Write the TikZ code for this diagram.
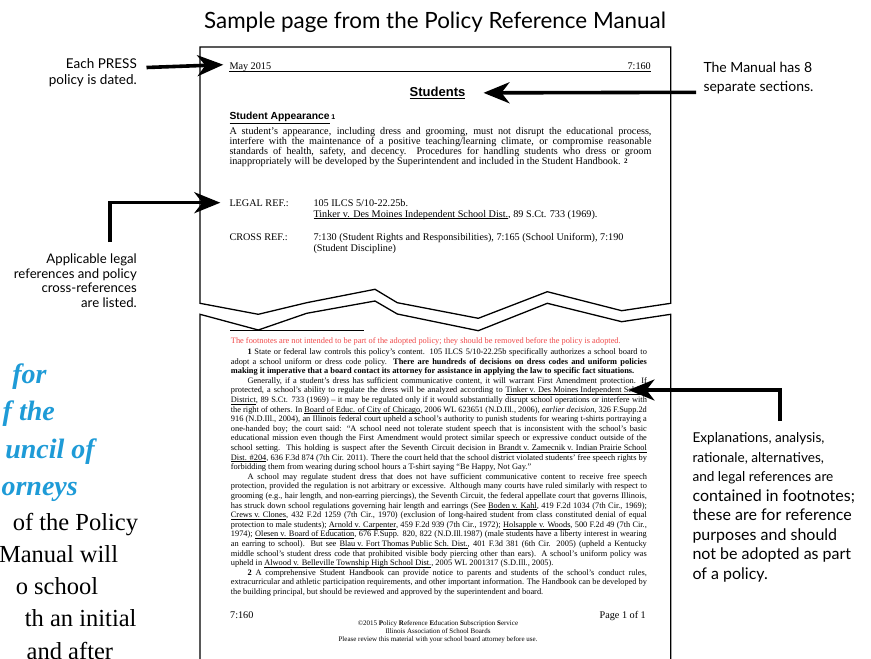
\documentclass[tikz,border=0pt]{standalone}
\usepackage{fontspec}
\setmainfont{Liberation Serif}
\newfontfamily\arialf{Liberation Sans}
\newfontfamily\gillf{Lato}
\usetikzlibrary{arrows.meta}
\definecolor{fnred}{RGB}{240,72,72}
\definecolor{titleblue}{RGB}{30,155,215}
\newcommand\mj[1]{\makebox[422pt][s]{#1}}
\newcommand\fj[1]{\makebox[416pt][s]{#1}}
\newcommand\topstrut{\rule{0pt}{0.8em}}
\newcommand\fnind{\hspace*{16.6pt}}
\newcommand\ul[1]{\underline{\smash{#1}}}
\AtBeginDocument{\lineskiplimit=-20pt\relax}
\tikzset{
  bigarrow/.style={line width=3.6pt, -{Stealth[length=26pt,width=21pt,inset=8pt]}},
  txt/.style={inner sep=0pt},
  times/.style={txt, font=\fontsize{10.2}{10}\selectfont},
  fnote/.style={txt, font=\fontsize{8.35}{9.6}\selectfont},
  note/.style={txt, font=\gillf\fontsize{13.5}{16.5}\selectfont},
  pageline/.style={line width=1.3pt, line join=miter},
  bluebig/.style={txt, text=titleblue, font=\bfseries\itshape\fontsize{28}{30}\selectfont},
  blackbig/.style={txt, font=\fontsize{24.5}{30}\selectfont}
}
\begin{document}
\begin{tikzpicture}[x=1pt,y=-1pt]
\useasboundingbox (0,0) rectangle (871,659);
\fill[white] (0,0) rectangle (871,659);

% page outline
\draw[pageline, fill=white] (200,47) -- (670.7,47) -- (670.7,303.3) -- (621.7,310.7) -- (547.3,291.7) -- (478.3,318.3) -- (397.3,302.7) -- (375,289.3) -- (306.7,302.7) -- (258.3,314.3) -- (200,303.3) -- cycle;
\draw[pageline] (200,670) -- (200,314.3) -- (258.3,330) -- (306.7,313.3) -- (375,301) -- (397.3,314) -- (478.3,330.7) -- (547.3,303.3) -- (621.7,321.7) -- (670.7,314.3) -- (670.7,670);

% title
\node[txt, anchor=base, font=\gillf\fontsize{22.4}{26}\selectfont] (title) at (435,28) {Sample page from the Policy Reference Manual};

% header
\node[times, anchor=base west] (date) at (229.3,69.5) {May 2015};
\node[times, anchor=base east] (secno) at (651,69.5) {7:160};
\draw[line width=0.8pt] (229.3,71.7) coordinate (rulel) -- (651,71.7) coordinate (ruler);

\node[txt, anchor=base, font=\arialf\bfseries\fontsize{13}{15}\selectfont] (students) at (437.5,96.5) {\underline{Students}};
\node[txt, anchor=base west, font=\arialf\bfseries\fontsize{10.3}{12}\selectfont] (appear) at (229.3,119.7) {\underline{Student Appearance}\,{\fontsize{7}{8}\selectfont\raisebox{0.6pt}{1}}};

\node[times, anchor=north west, align=left] (body) at (229.3,125.84) {\topstrut\mj{A student’s appearance, including dress and grooming, must not disrupt the educational process,}\\
\mj{interfere with the maintenance of a positive teaching/learning climate, or compromise reasonable}\\
\mj{standards of health, safety, and decency.\ \ Procedures for handling students who dress or groom}\\
inappropriately will be developed by the Superintendent and included in the Student Handbook. {\bfseries\fontsize{7}{8}\selectfont\raisebox{0.6pt}{2}}};

\node[times, anchor=base west] (legal) at (229.3,206) {LEGAL REF.:};
\node[times, anchor=north west, align=left, font=\fontsize{10.2}{10.8}\selectfont] (legaltxt) at (313.3,197.84) {\topstrut 105 ILCS 5/10-22.25b.\\\ul{Tinker v. Des Moines Independent School Dist.}, 89 S.Ct. 733 (1969).};
\node[times, anchor=base west] (cross) at (229.3,240) {CROSS REF.:};
\node[times, anchor=north west, align=left, font=\fontsize{10.2}{11.5}\selectfont] (crosstxt) at (313.3,231.84) {\topstrut 7:130 (Student Rights and Responsibilities), 7:165 (School Uniform), 7:190\\(Student Discipline)};

% footnotes
\draw[line width=0.8pt] (230,330.3) coordinate (fnrulel) -- (364,330.3) coordinate (fnruler);
\node[fnote, anchor=base west, text=fnred] (fnred) at (230.7,343.5) {The footnotes are not intended to be part of the adopted policy; they should be removed before the policy is adopted.};
\node[fnote, anchor=north west, align=left] (fntext) at (230.7,347.62) {\topstrut\fj{\fnind\textbf{1} State or federal law controls this policy’s content. 105 ILCS 5/10-22.25b specifically authorizes a school board to}\\
\fj{adopt a school uniform or dress code policy. \textbf{There are hundreds of decisions on dress codes and uniform policies}}\\
\textbf{making it imperative that a board contact its attorney for assistance in applying the law to specific fact situations.}\\
\fj{\fnind Generally, if a student’s dress has sufficient communicative content, it will warrant First Amendment protection. If}\\
\fj{protected, a school’s ability to regulate the dress will be analyzed according to \ul{Tinker v. Des Moines Independent School}}\\
\fj{\ul{District}, 89 S.Ct. 733 (1969) – it may be regulated only if it would substantially disrupt school operations or interfere with}\\
\fj{the right of others. In \ul{Board of Educ. of City of Chicago}, 2006 WL 623651 (N.D.Ill., 2006), \textit{earlier decision}, 326 F.Supp.2d}\\
\fj{916 (N.D.Ill., 2004), an Illinois federal court upheld a school’s authority to punish students for wearing t-shirts portraying a}\\
\fj{one-handed boy; the court said: “A school need not tolerate student speech that is inconsistent with the school’s basic}\\
\fj{educational mission even though the First Amendment would protect similar speech or expressive conduct outside of the}\\
\fj{school setting. This holding is suspect after the Seventh Circuit decision in \ul{Brandt v. Zamecnik v. Indian Prairie School}}\\
\fj{\ul{Dist. \#204}, 636 F.3d 874 (7th Cir. 2011). There the court held that the school district violated students’ free speech rights by}\\
forbidding them from wearing during school hours a T-shirt saying “Be Happy, Not Gay.”\\
\fj{\fnind A school may regulate student dress that does not have sufficient communicative content to receive free speech}\\
\fj{protection, provided the regulation is not arbitrary or excessive. Although many courts have ruled similarly with respect to}\\
\fj{grooming (e.g., hair length, and non-earring piercings), the Seventh Circuit, the federal appellate court that governs Illinois,}\\
\fj{has struck down school regulations governing hair length and earrings (See \ul{Boden v. Kahl}, 419 F.2d 1034 (7th Cir., 1969);}\\
\fj{\ul{Crews v. Clones}, 432 F.2d 1259 (7th Cir., 1970) (exclusion of long-haired student from class constituted denial of equal}\\
\fj{protection to male students); \ul{Arnold v. Carpenter}, 459 F.2d 939 (7th Cir., 1972); \ul{Holsapple v. Woods}, 500 F.2d 49 (7th Cir.,}\\
\fj{1974); \ul{Olesen v. Board of Education}, 676 F.Supp. 820, 822 (N.D.Ill.1987) (male students have a liberty interest in wearing}\\
\fj{an earring to school). But see \ul{Blau v. Fort Thomas Public Sch. Dist.}, 401 F.3d 381 (6th Cir. 2005) (upheld a Kentucky}\\
\fj{middle school’s student dress code that prohibited visible body piercing other than ears). A school’s uniform policy was}\\
upheld in \ul{Alwood v. Belleville Township High School Dist.}, 2005 WL 2001317 (S.D.Ill., 2005).\\
\fj{\fnind\textbf{2} A comprehensive Student Handbook can provide notice to parents and students of the school’s conduct rules,}\\
\fj{extracurricular and athletic participation requirements, and other important information. The Handbook can be developed by}\\
the building principal, but should be reviewed and approved by the superintendent and board.};

% footer
\node[times, anchor=base west] (footl) at (230,618.5) {7:160};
\node[times, anchor=base east] (footr) at (646,618.5) {Page 1 of 1};
\node[txt, anchor=north, align=center, font=\fontsize{7}{8}\selectfont] (copyr) at (438,619.9) {\topstrut ©2015 \textbf{P}olicy \textbf{R}eference \textbf{E}ducation \textbf{S}ubscription \textbf{S}ervice\\Illinois Association of School Boards\\Please review this material with your school board attorney before use.};

% annotations
\node[note, anchor=north east, align=right] (eachnote) at (137,57.2) {\topstrut Each PRESS\\policy is dated.};
\node[note, anchor=north west, align=left, font=\gillf\fontsize{14}{18.3}\selectfont] (manualnote) at (703.3,61.3) {\topstrut The Manual has 8\\separate sections.};
\node[note, anchor=north east, align=right, font=\gillf\fontsize{13.2}{14.5}\selectfont] (legalnote) at (137,253) {\topstrut Applicable legal\\references and policy\\cross-references\\are listed.};
\node[note, anchor=north west, align=left, font=\gillf\fontsize{13.6}{19.5}\selectfont] (explA) at (692.3,431.6) {\topstrut Explanations, analysis,\\rationale, alternatives,\\and legal references are};
\node[note, anchor=north west, align=left, font=\gillf\fontsize{16}{19.5}\selectfont] (explB) at (692.3,488.2) {\topstrut contained in footnotes;\\these are for reference\\purposes and should\\not be adopted as part\\of a policy.};

% arrows
\coordinate (eachstart) at (146.5,67.5);
\draw[bigarrow] (eachstart) -- ([xshift=-6pt,yshift=2.5pt]date.west);
\coordinate (manualstart) at (696,92.3);
\draw[bigarrow] (manualstart) -- ([xshift=18pt]students.east);
\coordinate (legalstart) at (110,242);
\draw[bigarrow] (legalstart) |- ([xshift=-9pt]legal.west);
\coordinate (fnstart) at (780,421);
\coordinate (fntip) at (628.5,390);
\draw[bigarrow] (fnstart) |- (fntip);

% cut-off text at the left edge
\begin{scope}
\clip (0,0) rectangle (871,659);
\node[bluebig, anchor=base east] (b1) at (46.7,383) {for};
\node[bluebig, anchor=base east] (b2) at (55,420.5) {f the};
\node[bluebig, anchor=base east] (b3) at (95,458) {uncil of};
\node[bluebig, anchor=base east] (b4) at (78,495.5) {orneys};
\node[blackbig, anchor=base east] (k1) at (138.3,530) {of the Policy};
\node[blackbig, anchor=base east] (k2) at (118.3,562.3) {Manual will};
\node[blackbig, anchor=base east] (k3) at (98.3,594.6) {o school};
\node[blackbig, anchor=base east] (k4) at (136.7,626.9) {th an initial};
\node[blackbig, anchor=base east] (k5) at (113.3,659.5) {and after};
\end{scope}
\end{tikzpicture}
\end{document}
